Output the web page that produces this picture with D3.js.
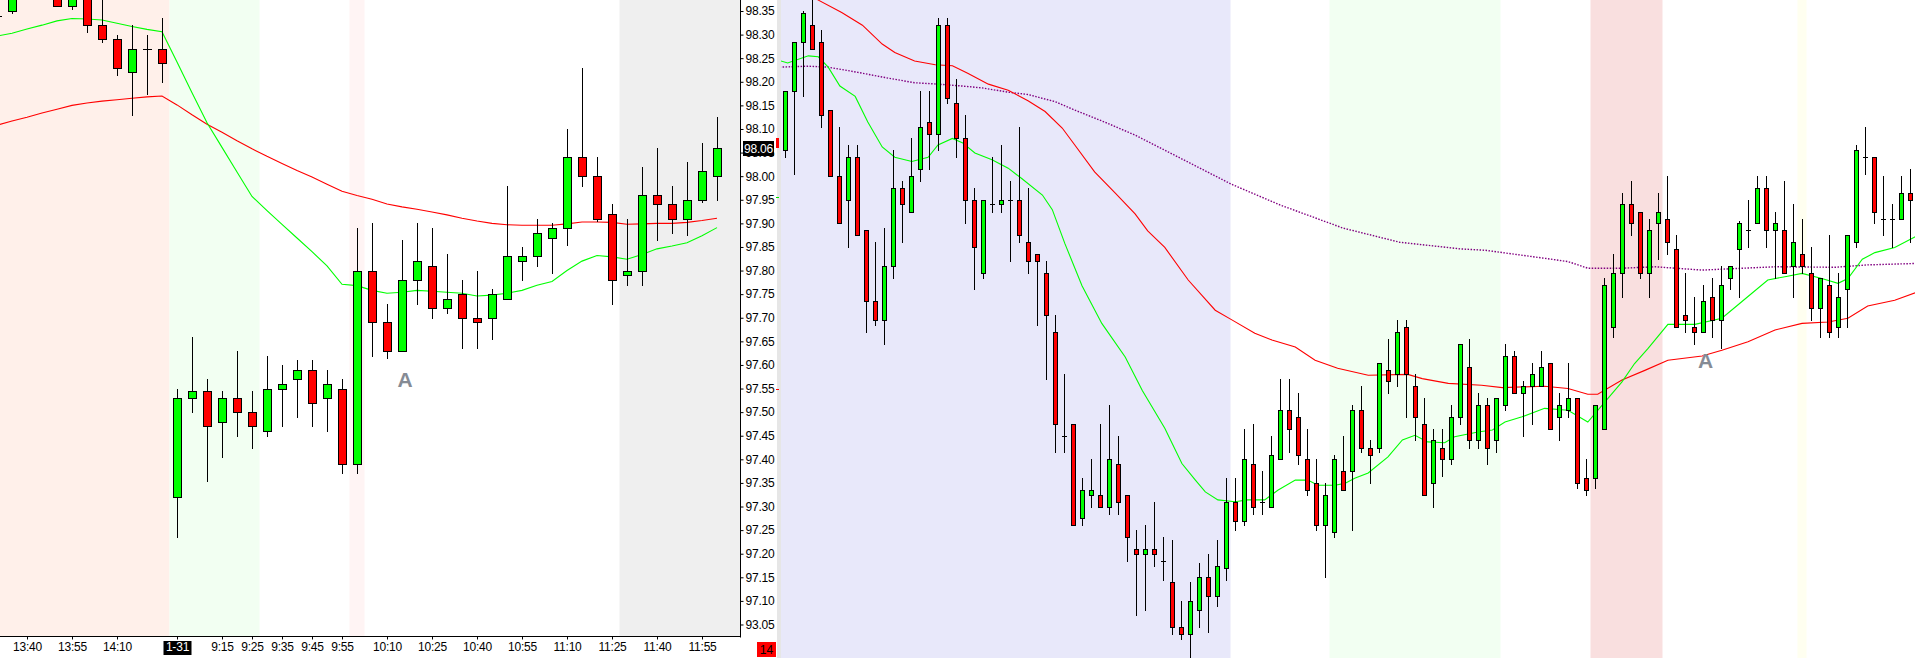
<!DOCTYPE html>
<html><head><meta charset="utf-8">
<script src="https://cdn.jsdelivr.net/npm/d3@7"></script>
<style>html,body{margin:0;padding:0;background:#fff;overflow:hidden}svg{display:block}</style>
</head><body><svg id="c" width="1915" height="658"></svg>
<script>
// ---------- DATA ----------
const leftTimes = ["13:30","13:35","13:40","13:45","13:50","13:55","14:00","14:05","14:10","14:15","14:20","14:25",
 "9:00","9:05","9:10","9:15","9:20","9:25","9:30","9:35","9:40","9:45","9:50","9:55",
 "10:00","10:05","10:10","10:15","10:20","10:25","10:30","10:35","10:40","10:45","10:50","10:55",
 "11:00","11:05","11:10","11:15","11:20","11:25","11:30","11:35","11:40","11:45","11:50","11:55","12:00"];

// [open, high, low, close]
const leftOHLC = [
 [98.34,98.36,98.33,98.34],[98.35,98.40,98.345,98.39],[98.39,98.42,98.385,98.41],[98.41,98.43,98.39,98.40],
 [98.385,98.39,98.36,98.36],[98.36,98.39,98.355,98.38],[98.38,98.39,98.305,98.32],[98.32,98.375,98.285,98.29],
 [98.29,98.30,98.215,98.23],[98.22,98.32,98.13,98.27],[98.27,98.30,98.175,98.27],[98.27,98.335,98.20,98.24],
 [97.32,97.55,97.235,97.53],[97.53,97.66,97.50,97.545],[97.545,97.57,97.355,97.47],[97.48,97.545,97.405,97.53],
 [97.53,97.63,97.45,97.50],[97.50,97.545,97.425,97.47],[97.46,97.62,97.45,97.55],[97.55,97.60,97.47,97.56],
 [97.57,97.61,97.49,97.59],[97.59,97.61,97.47,97.52],[97.53,97.59,97.46,97.56],[97.55,97.57,97.37,97.39],
 [97.39,97.89,97.37,97.80],[97.80,97.90,97.62,97.69],[97.69,97.73,97.615,97.63],[97.63,97.865,97.63,97.78],
 [97.78,97.90,97.73,97.82],[97.81,97.89,97.70,97.72],[97.72,97.835,97.71,97.74],[97.75,97.78,97.635,97.70],
 [97.70,97.80,97.635,97.69],[97.70,97.76,97.655,97.75],[97.74,97.98,97.74,97.83],[97.82,97.85,97.78,97.83],
 [97.83,97.91,97.81,97.88],[97.87,97.90,97.795,97.89],[97.89,98.10,97.855,98.04],[98.04,98.23,97.98,98.00],
 [98.00,98.04,97.905,97.91],[97.92,97.94,97.73,97.78],[97.79,97.91,97.77,97.80],[97.80,98.02,97.77,97.96],
 [97.96,98.06,97.865,97.94],[97.94,97.98,97.88,97.91],[97.91,98.03,97.875,97.95],[97.95,98.07,97.945,98.01],
 [98.00,98.125,97.95,98.06]];

const leftFastMA = [98.297,98.303,98.312,98.320,98.329,98.334,98.333,98.331,98.324,98.317,98.311,98.306,
 98.242,98.177,98.113,98.061,98.009,97.957,97.927,97.898,97.869,97.840,97.810,97.771,97.768,97.758,97.752,
 97.754,97.758,97.756,97.754,97.752,97.746,97.748,97.752,97.758,97.769,97.777,97.800,97.820,97.832,97.829,
 97.824,97.834,97.846,97.852,97.859,97.874,97.891];
const leftSlowMA = [98.108,98.117,98.125,98.134,98.142,98.150,98.155,98.159,98.162,98.165,98.168,98.170,
 98.151,98.130,98.110,98.093,98.075,98.058,98.042,98.027,98.012,97.998,97.983,97.968,97.959,97.951,97.941,
 97.935,97.930,97.924,97.918,97.911,97.905,97.900,97.897,97.896,97.896,97.896,97.899,97.903,97.903,97.902,
 97.898,97.899,97.900,97.900,97.902,97.906,97.911];

const rightOHLC = [
 [98.055,98.18,98.04,98.18],[98.18,98.285,98.005,98.285],[98.285,98.35,98.17,98.345],[98.32,98.38,98.27,98.27],
 [98.285,98.31,98.105,98.13],[98.14,98.14,98.00,98.00],[98.00,98.105,97.90,97.90],[97.95,98.065,97.85,98.04],
 [98.04,98.065,97.875,97.875],[97.885,97.885,97.67,97.735],[97.735,97.86,97.685,97.695],[97.695,97.89,97.645,97.81],
 [97.81,98.055,97.785,97.975],[97.975,97.99,97.86,97.94],[97.925,98.08,97.925,98.00],[98.015,98.18,97.99,98.105],
 [98.115,98.18,98.015,98.09],[98.09,98.335,98.055,98.32],[98.32,98.335,98.155,98.165],[98.155,98.205,98.04,98.08],
 [98.08,98.13,97.90,97.95],[97.95,97.975,97.76,97.85],[97.795,97.95,97.785,97.95],[97.94,98.04,97.925,97.94],
 [97.94,98.065,97.925,97.95],[97.95,97.99,97.82,97.95],[97.95,98.105,97.86,97.875],[97.86,97.975,97.795,97.82],
 [97.835,97.835,97.685,97.82],[97.795,97.82,97.57,97.705],[97.67,97.705,97.415,97.475],[97.45,97.58,97.415,97.45],
 [97.475,97.475,97.26,97.26],[97.275,97.36,97.26,97.335],[97.325,97.40,97.30,97.335],[97.325,97.475,97.30,97.30],
 [97.30,97.515,97.285,97.40],[97.39,97.45,97.285,97.31],[97.325,97.325,97.185,97.235],[97.21,97.25,97.07,97.20],
 [97.20,97.26,97.08,97.21],[97.21,97.31,97.175,97.20],[97.185,97.235,97.145,97.185],[97.14,97.23,97.03,97.045],
 [97.045,97.10,97.02,97.03],[97.03,97.14,96.98,97.10],[97.08,97.18,97.045,97.15],[97.15,97.20,97.035,97.11],
 [97.11,97.23,97.09,97.175],[97.17,97.36,97.145,97.31],[97.31,97.36,97.25,97.27],[97.27,97.465,97.26,97.40],
 [97.39,97.475,97.285,97.30],[97.31,97.375,97.285,97.31],[97.30,97.45,97.30,97.41],[97.40,97.57,97.40,97.505],
 [97.505,97.57,97.415,97.465],[97.49,97.54,97.39,97.41],[97.40,97.465,97.325,97.335],[97.35,97.40,97.25,97.26],
 [97.26,97.35,97.15,97.325],[97.245,97.41,97.235,97.40],[97.375,97.45,97.335,97.335],[97.375,97.515,97.25,97.505],
 [97.505,97.555,97.415,97.425],[97.425,97.44,97.35,97.41],[97.425,97.605,97.415,97.605],[97.59,97.655,97.54,97.565],
 [97.58,97.695,97.555,97.67],[97.68,97.695,97.49,97.58],[97.555,97.58,97.44,97.49],[97.475,97.53,97.325,97.325],
 [97.35,97.465,97.30,97.44],[97.425,97.465,97.365,97.40],[97.40,97.515,97.39,97.49],[97.49,97.645,97.475,97.645],
 [97.595,97.655,97.425,97.44],[97.44,97.54,97.425,97.515],[97.515,97.53,97.39,97.425],[97.44,97.53,97.415,97.53],
 [97.515,97.645,97.505,97.62],[97.62,97.63,97.54,97.54],[97.54,97.565,97.45,97.555],[97.555,97.605,97.475,97.58],
 [97.555,97.63,97.555,97.595],[97.605,97.605,97.465,97.465],[97.49,97.54,97.44,97.515],[97.505,97.605,97.49,97.53],
 [97.53,97.53,97.34,97.35],[97.36,97.40,97.325,97.335],[97.36,97.515,97.34,97.515],[97.465,97.785,97.465,97.77],
 [97.68,97.835,97.66,97.795],[97.795,97.965,97.745,97.94],[97.94,97.99,97.875,97.90],[97.925,97.925,97.785,97.795],
 [97.795,97.91,97.745,97.885],[97.90,97.965,97.825,97.925],[97.91,98.00,97.835,97.86],[97.845,97.875,97.68,97.68],
 [97.705,97.795,97.67,97.695],[97.68,97.745,97.645,97.67],[97.67,97.77,97.67,97.735],[97.745,97.785,97.66,97.695],
 [97.695,97.81,97.635,97.77],[97.785,97.81,97.76,97.81],[97.845,97.905,97.745,97.90],[97.885,97.95,97.85,97.885],
 [97.90,98.00,97.90,97.975],[97.975,98.00,97.85,97.885],[97.885,97.925,97.785,97.90],[97.885,97.99,97.795,97.795],
 [97.81,97.94,97.745,97.86],[97.835,97.91,97.795,97.81],[97.795,97.85,97.695,97.72],[97.72,97.785,97.66,97.785],
 [97.77,97.875,97.66,97.67],[97.68,97.795,97.66,97.745],[97.76,97.875,97.68,97.875],[97.86,98.065,97.85,98.055],
 [98.04,98.105,98.005,98.04],[98.04,98.04,97.90,97.925],[97.91,98.00,97.875,97.91],[97.91,97.94,97.85,97.91],
 [97.91,98.00,97.91,97.965],[97.965,98.015,97.86,97.95]];

// [candle index, price]
const rightFastMA = [[-0.8,98.246],[0.3,98.240],[2.6,98.255],[3.7,98.253],[4.8,98.231],[6.1,98.191],[7.8,98.169],
 [9.2,98.115],[10.8,98.062],[12.2,98.040],[14.1,98.031],[15.9,98.040],[17.0,98.066],[18.6,98.080],[19.7,98.071],
 [21.1,98.049],[23.0,98.035],[24.8,98.017],[26.3,97.995],[28.6,97.960],[29.7,97.929],[31.1,97.857],[33.0,97.768],
 [35.2,97.688],[37.8,97.617],[39.7,97.546],[42.2,97.466],[44.1,97.391],[45.6,97.356],[46.7,97.331],[48.1,97.314],
 [50.0,97.310],[51.4,97.314],[53.3,97.314],[54.8,97.335],[56.7,97.356],[58.1,97.356],[59.2,97.345],[61.1,97.345],
 [62.2,97.349],[63.3,97.360],[64.8,97.371],[67.0,97.405],[68.6,97.441],[70.0,97.451],[71.4,97.437],[73.3,97.435],
 [74.4,97.448],[77.0,97.458],[78.6,97.462],[80.0,97.479],[81.9,97.490],[84.4,97.508],[87.0,97.504],[89.2,97.479],
 [90.8,97.515],[93.0,97.564],[94.4,97.603],[95.9,97.635],[98.1,97.686],[101.1,97.686],[104.1,97.699],[106.3,97.734],
 [109.2,97.780],[111.4,97.788],[113.0,97.794],[115.2,97.783],[117.0,97.773],[118.1,97.783],[119.7,97.824],
 [121.1,97.838],[123.3,97.849],[125.6,97.872]];
const rightSlowMA = [[2.0,98.395],[3.7,98.373],[6.3,98.347],[8.6,98.320],[10.8,98.280],[12.2,98.262],[14.4,98.244],
 [16.7,98.236],[18.6,98.234],[20.3,98.218],[22.6,98.195],[24.8,98.182],[27.0,98.160],[28.9,98.137],[30.8,98.102],
 [32.2,98.066],[34.4,98.009],[36.7,97.964],[38.9,97.920],[40.3,97.884],[42.2,97.849],[44.8,97.780],[47.8,97.716],
 [49.7,97.695],[52.2,97.667],[54.1,97.653],[56.7,97.638],[58.9,97.610],[61.4,97.593],[64.8,97.578],[69.2,97.580],
 [70.8,97.571],[73.7,97.561],[77.4,97.557],[79.7,97.552],[84.4,97.555],[87.0,97.550],[89.2,97.538],[90.3,97.538],
 [93.0,97.568],[95.6,97.589],[98.1,97.610],[101.9,97.619],[104.1,97.631],[107.0,97.649],[110.0,97.674],
 [113.0,97.688],[115.9,97.691],[118.1,97.699],[120.3,97.725],[123.3,97.737],[125.6,97.753]];
const rightSlowerMA = [[-0.6,98.231],[2.6,98.233],[4.8,98.231],[8.1,98.220],[11.1,98.209],[14.4,98.198],
 [17.0,98.195],[19.7,98.191],[21.9,98.187],[24.8,98.178],[27.0,98.173],[30.0,98.158],[32.2,98.140],[35.6,98.114],
 [38.9,98.087],[42.2,98.055],[49.6,97.983],[55.0,97.939],[62.0,97.890],[68.3,97.860],[75.0,97.846],[77.8,97.843],
 [84.4,97.826],[87.0,97.819],[89.2,97.805],[93.0,97.805],[96.7,97.808],[101.9,97.801],[110.0,97.808],
 [116.7,97.807],[120.3,97.812],[125.6,97.815]];

const yTickValues = [98.35,98.30,98.25,98.20,98.15,98.10,98.05,98.00,97.95,97.90,97.85,97.80,97.75,97.70,
 97.65,97.60,97.55,97.50,97.45,97.40,97.35,97.30,97.25,97.20,97.15,97.10,97.05];
const yTickLabels = ["98.35","98.30","98.25","98.20","98.15","98.10","98.05","98.00","97.95","97.90","97.85",
 "97.80","97.75","97.70","97.65","97.60","97.55","97.50","97.45","97.40","97.35","97.30","97.25","97.20",
 "97.15","97.10","93.05"];
const xTickTimes = ["13:40","13:55","14:10","9:00","9:15","9:25","9:35","9:45","9:55","10:10","10:25","10:40",
 "10:55","11:10","11:25","11:40","11:55"];
const xTickLabels = ["13:40","13:55","14:10","1-31","9:15","9:25","9:35","9:45","9:55","10:10","10:25","10:40",
 "10:55","11:10","11:25","11:40","11:55"];
const dateTickTime = "9:00";

const leftBands = [["13:30","14:25","salmon"],["9:00","9:25","mint"],["10:00","10:00","blush"],["11:30","12:00","gray"]];
const rightBands = [[0,49,"lavender"],[61,79,"mint"],[90,97,"rose"],[113,113,"cream"]];
const annotations = [{panel:"left", at:"10:15", price:97.553, text:"A"},
                     {panel:"right", at:102.3, price:97.593, text:"A"}];
const counterLabel = "14";

// ---------- CHART ----------
const W = 1915, H = 658;
const L = {x0:0, x1:740, y1:637};
const R = {x0:781, x1:1915};
const bandColor = {salmon:"#FFF0EA", mint:"#F2FFF2", blush:"#FFF4F4", gray:"#EFEFEF",
                   lavender:"#E8E8FA", rose:"#F9DFDF", cream:"#FFFFF0"};
const svg = d3.select("#c");
const y = d3.scaleLinear().domain([97.10, 98.35]).range([600.9, 11]);
const xL = d3.scalePoint().domain(leftTimes).range([-3, 717]);
const xR = d3.scaleLinear().domain([0, 125]).range([785, 1910]);

const defs = svg.append("defs");
defs.append("clipPath").attr("id","clipL").append("rect").attr("x",0).attr("y",0).attr("width",L.x1).attr("height",L.y1);
defs.append("clipPath").attr("id","clipR").append("rect").attr("x",R.x0).attr("y",0).attr("width",R.x1-R.x0).attr("height",H);

svg.append("rect").attr("width",W).attr("height",H).attr("fill","#fff");

// left panel
const gL = svg.append("g").attr("clip-path","url(#clipL)");
const stepL = xL.step();
leftBands.forEach(([a,b,k]) => {
  const xa = a === leftTimes[0] ? 0 : xL(a) - stepL/2;
  const xb = b === leftTimes[leftTimes.length-1] ? L.x1 : xL(b) + stepL/2;
  gL.append("rect").attr("x",xa).attr("y",0).attr("width",xb-xa).attr("height",L.y1).attr("fill",bandColor[k]);
});

// right panel
svg.append("rect").attr("x",777).attr("y",0).attr("width",4).attr("height",H).attr("fill","#E6E6E6");
const gR = svg.append("g").attr("clip-path","url(#clipR)");
const stepR = xR(1) - xR(0);
rightBands.forEach(([a,b,k]) => {
  const xa = a === 0 ? R.x0 : xR(a) - stepR/2;
  const xb = xR(b) + stepR/2;
  gR.append("rect").attr("x",xa).attr("y",0).attr("width",xb-xa).attr("height",H).attr("fill",bandColor[k]);
});

function drawCandles(g, rows, xf, half) {
  rows.forEach((r, i) => {
    const [o,h,l,c] = r;
    const cx = Math.round(xf(i));
    g.append("line").attr("x1",cx+0.5).attr("x2",cx+0.5)
      .attr("y1",Math.round(y(h))).attr("y2",Math.round(y(l))+1).attr("stroke","#000").attr("stroke-width",1);
    if (o === c) {
      const yy = Math.round(y(o)) + 0.5;
      g.append("line").attr("x1",cx-half).attr("x2",cx+half+1).attr("y1",yy).attr("y2",yy).attr("stroke","#000");
    } else {
      const top = Math.round(y(Math.max(o,c))), bot = Math.round(y(Math.min(o,c)));
      g.append("rect").attr("x",cx-half+0.5).attr("y",top+0.5).attr("width",2*half)
        .attr("height",Math.max(bot-top,1)).attr("fill", c > o ? "#00FF00" : "#FF0000")
        .attr("stroke","#000").attr("stroke-width",1);
    }
  });
}

function maPath(g, pts, xf, color, dash, w) {
  const line = d3.line().x(d => xf(d[0])).y(d => y(d[1]));
  const p = g.append("path").attr("d", line(pts)).attr("fill","none").attr("stroke",color).attr("stroke-width",w);
  if (dash) p.attr("stroke-dasharray", dash);
}

// left MAs & candles
maPath(gL, leftSlowMA.map((v,i)=>[i,v]), i => xL(leftTimes[i]), "#FF0000", null, 1.1);
maPath(gL, leftFastMA.map((v,i)=>[i,v]), i => xL(leftTimes[i]), "#00FF00", null, 1.1);
drawCandles(gL, leftOHLC, i => xL(leftTimes[i]), 4);

// right MAs & candles
maPath(gR, rightSlowerMA, xR, "#800080", "1.5 1.5", 1.4);
maPath(gR, rightSlowMA, xR, "#FF0000", null, 1.1);
maPath(gR, rightFastMA, xR, "#00FF00", null, 1.1);
drawCandles(gR, rightOHLC, xR, 2);

// annotations
annotations.forEach(a => {
  const ax = a.panel === "left" ? xL(a.at) + 3 : xR(a.at);
  (a.panel === "left" ? gL : gR).append("text").attr("x", ax).attr("y", y(a.price))
    .attr("text-anchor","middle").attr("font-family","Liberation Sans, Arial, sans-serif")
    .attr("font-weight","bold").attr("font-size",21).attr("fill","#858B95").text(a.text);
});

// axes frame
svg.append("line").attr("x1",740.5).attr("x2",740.5).attr("y1",0).attr("y2",L.y1+0.5).attr("stroke","#000");
svg.append("line").attr("x1",0).attr("x2",741).attr("y1",L.y1-0.5).attr("y2",L.y1-0.5).attr("stroke","#000");

const yAxis = d3.axisRight(y).tickValues(yTickValues).tickSize(3).tickPadding(2)
  .tickFormat((d,i) => yTickLabels[i]);
const gy = svg.append("g").attr("transform","translate(740.5,0)").call(yAxis);
gy.select(".domain").remove();
gy.selectAll("text").attr("font-family","Liberation Sans, Arial, sans-serif").attr("font-size",12)
  .attr("fill","#000").attr("letter-spacing","-0.2");
gy.selectAll("line").attr("stroke","#000");

const xAxis = d3.axisBottom(xL).tickValues(xTickTimes).tickSize(3).tickPadding(3)
  .tickFormat((d,i) => xTickLabels[i]);
const gx = svg.append("g").attr("transform",`translate(0,${L.y1-0.5})`).call(xAxis);
gx.select(".domain").remove();
gx.selectAll("text").attr("font-family","Liberation Sans, Arial, sans-serif").attr("font-size",12)
  .attr("fill","#000").attr("letter-spacing","-0.2");
gx.selectAll("line").attr("stroke","#000");
// date tick in a black box
gx.selectAll(".tick").filter(d => d === dateTickTime).each(function() {
  const t = d3.select(this);
  t.insert("rect","text").attr("x",-14).attr("y",4.5).attr("width",28).attr("height",14).attr("fill","#000");
  t.select("text").attr("fill","#fff");
});

// last price marker
const lastPrice = leftOHLC[leftOHLC.length-1][3];
const ly = Math.round(y(lastPrice));
svg.append("rect").attr("x",743).attr("y",ly-7).attr("width",31).attr("height",15).attr("fill","#000");
svg.append("text").attr("x",758.5).attr("y",ly+4.5).attr("text-anchor","middle")
  .attr("font-family","Liberation Sans, Arial, sans-serif").attr("font-size",12).attr("fill","#fff")
  .attr("letter-spacing","-0.2").text(lastPrice.toFixed(2));

// small right-panel level markers at the panel edge
const edgeMarks = [[98.08,98.06,"#FF0000"],[97.955,97.953,"#00E400"],[97.548,97.546,"#FF0000"]];
edgeMarks.forEach(([a,b,c]) => {
  svg.append("rect").attr("x",776).attr("y",Math.round(y(a))).attr("width",3)
    .attr("height",Math.max(1,Math.round(y(b))-Math.round(y(a)))).attr("fill",c);
});

// counter box
svg.append("rect").attr("x",757).attr("y",642).attr("width",19).attr("height",15).attr("fill","#FF0000");
svg.append("text").attr("x",766.5).attr("y",654).attr("text-anchor","middle")
  .attr("font-family","Liberation Sans, Arial, sans-serif").attr("font-size",12).attr("fill","#000").text(counterLabel);
</script></body></html>
